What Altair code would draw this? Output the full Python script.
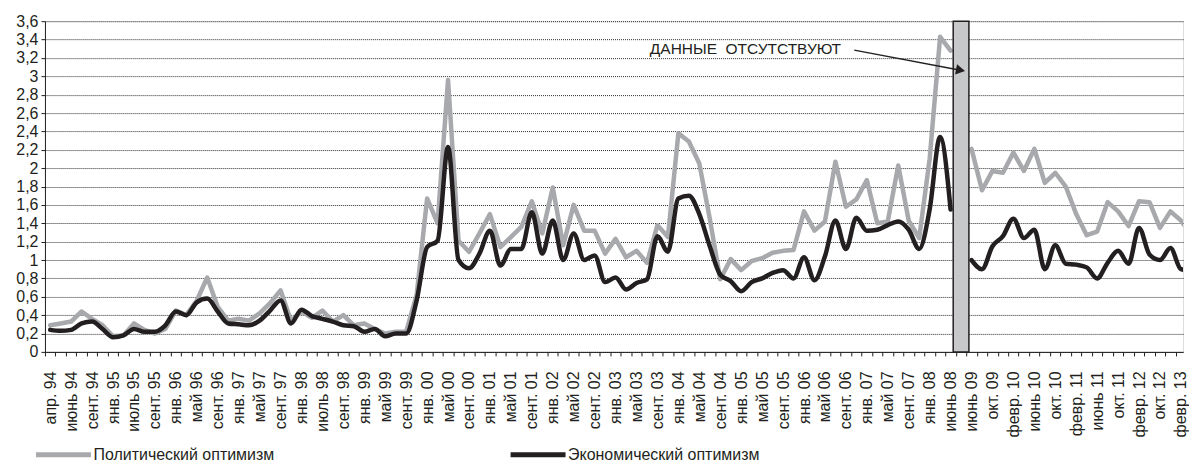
import json
import altair as alt
import pandas as pd

# ---- data ----
labels = ["апр. 94", "июнь 94", "сент. 94", "янв. 95", "июль 95", "сент. 95", "янв. 96", "май 96",
          "сент. 96", "янв. 97", "май 97", "сент. 97", "янв. 98", "июль 98", "сент. 98", "янв. 99",
          "май 99", "сент. 99", "янв. 00", "май 00", "сент. 00", "янв. 01", "май 01", "сент. 01",
          "янв. 02", "май 02", "сент. 02", "янв. 03", "май 03", "сент. 03", "янв. 04", "май 04",
          "сент. 04", "янв. 05", "май 05", "сент. 05", "янв. 06", "май 06", "сент. 06", "янв. 07",
          "май 07", "сент. 07", "янв. 08", "июнь 08", "июнь 09", "окт. 09", "февр. 10", "июнь 10",
          "окт. 10", "февр. 11", "июнь 11", "окт. 11", "февр. 12", "окт. 12", "февр. 13"]

political = [0.29, 0.31, 0.33, 0.44, 0.36, 0.29, 0.17, 0.18, 0.31, 0.24,
             0.20, 0.25, 0.45, 0.40, 0.56, 0.81, 0.49, 0.34, 0.36, 0.34,
             0.42, 0.53, 0.67, 0.34, 0.44, 0.37, 0.45, 0.33, 0.40, 0.29,
             0.31, 0.25, 0.20, 0.22, 0.22, 0.62, 1.67, 1.40, 2.96, 1.21,
             1.09, 1.29, 1.50, 1.14, 1.25, 1.36, 1.64, 1.29, 1.79, 1.16,
             1.60, 1.32, 1.32, 1.07, 1.23, 1.03, 1.10, 0.97, 1.38, 1.25,
             2.38, 2.29, 2.05, 1.45, 0.79, 1.01, 0.89, 0.99, 1.02, 1.08,
             1.10, 1.11, 1.53, 1.32, 1.42, 2.07, 1.58, 1.66, 1.87, 1.40,
             1.42, 2.03, 1.43, 1.24, 2.10, 3.43, 3.28, None, 2.21, 1.76,
             1.97, 1.95, 2.17, 1.97, 2.21, 1.84, 1.95, 1.80, 1.50, 1.27,
             1.31, 1.63, 1.53, 1.37, 1.64, 1.63, 1.35, 1.53, 1.43, 1.27]

economic = [0.24, 0.23, 0.24, 0.31, 0.33, 0.25, 0.16, 0.18, 0.25, 0.22,
            0.22, 0.29, 0.44, 0.40, 0.54, 0.58, 0.44, 0.31, 0.30, 0.29,
            0.34, 0.45, 0.56, 0.31, 0.46, 0.39, 0.36, 0.33, 0.29, 0.28,
            0.22, 0.25, 0.17, 0.20, 0.20, 0.56, 1.14, 1.21, 2.23, 1.00,
            0.91, 1.07, 1.32, 0.94, 1.12, 1.12, 1.52, 1.07, 1.43, 1.00,
            1.29, 1.00, 1.05, 0.76, 0.81, 0.68, 0.75, 0.79, 1.26, 1.09,
            1.67, 1.70, 1.50, 1.15, 0.84, 0.77, 0.66, 0.76, 0.80, 0.86,
            0.89, 0.80, 1.03, 0.78, 1.04, 1.43, 1.12, 1.46, 1.32, 1.33,
            1.38, 1.42, 1.33, 1.12, 1.55, 2.34, 1.55, None, 1.00, 0.90,
            1.15, 1.26, 1.45, 1.24, 1.33, 0.90, 1.16, 0.96, 0.95, 0.92,
            0.80, 0.97, 1.10, 0.96, 1.35, 1.06, 1.00, 1.13, 0.90, 0.88]

series_names = ["Политический оптимизм", "Экономический оптимизм"]
series_colors = ["#a7a9ac", "#231f20"]
gap_index = 87
note_text = "ДАННЫЕ\u00a0\u00a0ОТСУТСТВУЮТ"

FONT = "Liberation Sans"
W, H = 1139, 331
n = len(political)
x_dom = [-0.5, 108.2]          # the reference crops the last month at the right edge
band_px = W / (x_dom[1] - x_dom[0])

rows = []
for i in range(n):
    seg = 0 if i < gap_index else 1
    if political[i] is not None:
        rows.append({"idx": i, "value": political[i], "series": series_names[0], "seg": seg})
    if economic[i] is not None:
        rows.append({"idx": i, "value": economic[i], "series": series_names[1], "seg": seg})
df = pd.DataFrame(rows)

lab_js = json.dumps(labels, ensure_ascii=False)
x_label_expr = f"(datum.value + 0.5) % 2 == 0 ? {lab_js}[(datum.value + 0.5) / 2] : ''"

x_scale = alt.Scale(domain=x_dom, nice=False, zero=False)
y_scale = alt.Scale(domain=[0, 3.6], nice=False)

x_axis = alt.Axis(values=[k - 0.5 for k in range(n)], tickCount=500, labelExpr=x_label_expr,
                  labelAngle=270, labelAlign="right", labelBaseline="middle",
                  labelOffset=band_px / 2, labelPadding=15, labelOverlap=False, labelFlush=False,
                  labelBound=False, tickSize=4, tickColor="#231f20", domainColor="#231f20",
                  grid=False, title=None, labelFontSize=16, labelColor="#231f20", labelFont=FONT)
y_axis = alt.Axis(values=[round(0.2 * k, 1) for k in range(19)], tickCount=500,
                  labelExpr="replace(format(datum.value, '.1~f'), '.', ',')", labelOverlap=False,
                  labelFlush=False, tickSize=4, tickColor="#231f20", domainColor="#231f20",
                  grid=True, gridColor="#2a2a2a", gridDash=[1, 1], gridWidth=1, title=None,
                  labelFontSize=16, labelColor="#231f20", labelFont=FONT, labelPadding=3)

color = alt.Color("series:N", scale=alt.Scale(domain=series_names, range=series_colors),
                  legend=alt.Legend(orient="none", legendX=-11.5, legendY=404,
                                    direction="horizontal", title=None, symbolType="stroke",
                                    symbolSize=3025, symbolStrokeWidth=5, labelFontSize=16,
                                    labelFont=FONT, labelColor="#231f20", labelOffset=0,
                                    labelLimit=400, columnPadding=225))

base = alt.Chart(df).encode(
    x=alt.X("idx:Q", scale=x_scale, axis=x_axis),
    y=alt.Y("value:Q", scale=y_scale, axis=y_axis),
    color=color,
    detail="seg:N",
)
pol_line = base.transform_filter(alt.datum.series == series_names[0]).mark_line(
    strokeWidth=4.5, strokeCap="round", strokeJoin="round", clip=True)
eco_line = base.transform_filter(alt.datum.series == series_names[1]).mark_line(
    strokeWidth=4.5, strokeCap="round", strokeJoin="round", interpolate="monotone", clip=True)

gap_df = pd.DataFrame([{"x": gap_index - 0.75, "x2": gap_index + 0.75, "y": 0.0, "y2": 3.6}])
gap_bar = alt.Chart(gap_df).mark_rect(fill="#c7c8ca", stroke="#231f20", strokeWidth=1.5).encode(
    x=alt.X("x:Q", scale=x_scale), x2="x2:Q",
    y=alt.Y("y:Q", scale=y_scale), y2="y2:Q")

arrow_df = pd.DataFrame([{"x": 76.8, "y": 3.285, "x2": 86.95, "y2": 3.066}])
arrow_line = alt.Chart(arrow_df).mark_rule(color="#231f20", strokeWidth=1.5).encode(
    x=alt.X("x:Q", scale=x_scale), x2="x2:Q",
    y=alt.Y("y:Q", scale=y_scale), y2="y2:Q")
arrow_head = alt.Chart(arrow_df).mark_point(shape="triangle-right", filled=True, color="#231f20",
                                            size=110, angle=10.6, opacity=1).encode(
    x=alt.X("x2:Q", scale=x_scale), y=alt.Y("y2:Q", scale=y_scale))

note_df = pd.DataFrame([{"x": 66.4, "y": 3.3, "t": note_text}])
note = alt.Chart(note_df).mark_text(font=FONT, fontSize=15.5, color="#231f20", align="center",
                                    baseline="middle").encode(
    x=alt.X("x:Q", scale=x_scale), y=alt.Y("y:Q", scale=y_scale), text="t:N")

chart = alt.layer(pol_line, eco_line, gap_bar, arrow_line, arrow_head, note).properties(
    width=W, height=H,
    padding={"left": 7, "top": 5, "right": 0, "bottom": 0},
).configure_view(stroke=None).configure(font=FONT)

chart.save("out.html", embed_options={"renderer": "svg", "actions": False})
